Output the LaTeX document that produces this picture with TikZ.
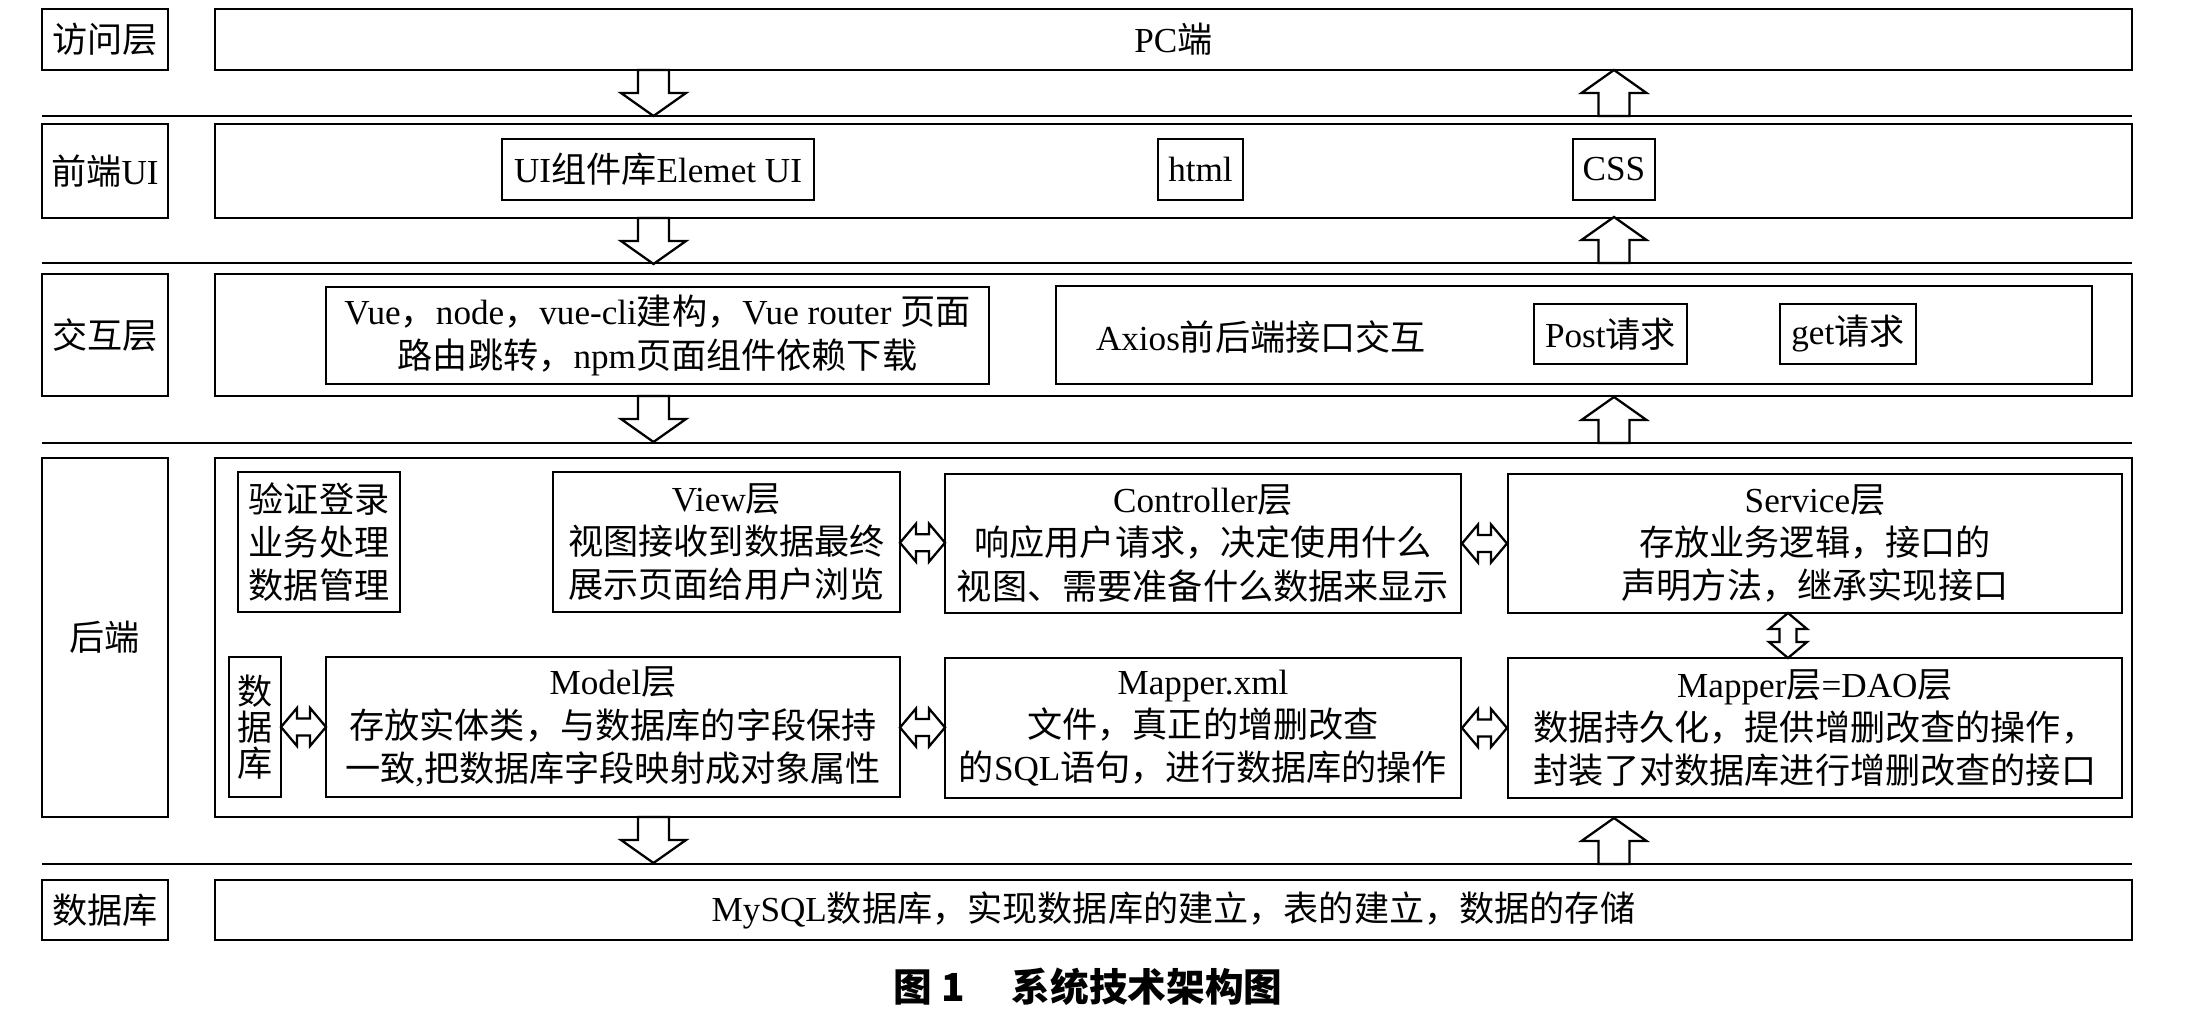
\documentclass[tikz,border=0pt]{standalone}
\usepackage{fontspec}
\setmainfont{Liberation Serif}
\newfontfamily\cjk{Noto Sans CJK SC}
\usepackage{tikz}
\usetikzlibrary{positioning,calc}

\XeTeXinterchartokenstate=1
\newXeTeXintercharclass\cjkclass
\newcount\cjkcode
\cjkcode="3000
\loop\XeTeXcharclass\cjkcode=\cjkclass\advance\cjkcode by 1 \ifnum\cjkcode<"A000 \repeat
\cjkcode="FF00
\loop\XeTeXcharclass\cjkcode=\cjkclass\advance\cjkcode by 1 \ifnum\cjkcode<"FFF0 \repeat
\XeTeXinterchartoks 0 \cjkclass={\cjk}
\XeTeXinterchartoks 4095 \cjkclass={\cjk}
\XeTeXinterchartoks \cjkclass 0={\rmfamily}
\XeTeXinterchartoks \cjkclass 4095={\rmfamily}

\tikzset{
	lay/.style={draw, line width=0.65pt, inner sep=0pt, align=center},
	sep/.style={line width=0.65pt},
	pics/dnblk/.style={code={
		\draw[sep, fill=white] (-0.155,0) -- (-0.155,-0.23) -- (-0.325,-0.23) -- (0,-0.46) -- (0.325,-0.23) -- (0.155,-0.23) -- (0.155,0) -- cycle;
	}},
	pics/dblblk/.style={code={
		\draw[sep, fill=white] (-0.225,0) -- (-0.065,0.19) -- (-0.065,0.085) -- (0.065,0.085) -- (0.065,0.19) -- (0.225,0) -- (0.065,-0.19) -- (0.065,-0.085) -- (-0.065,-0.085) -- (-0.065,-0.19) -- cycle;
	}}
}

\begin{document}
\begin{tikzpicture}[font=\fontsize{10pt}{12.3pt}\selectfont]
	\useasboundingbox (0,0) rectangle (21.87,-10.17);
	\foreach \y in {1.16,2.63,4.43,8.64}
		\draw[sep] (0.42,-\y) -- (21.32,-\y);
	\node[lay, minimum width=1.26cm, minimum height=0.61cm] (l1) at (1.05,-0.395) {访问层};
	\node[lay, minimum width=19.17cm, minimum height=0.61cm] (c1) at (11.735,-0.395) {PC端};
	\node[lay, minimum width=1.26cm, minimum height=0.94cm] (l2) at (1.05,-1.71) {前端UI};
	\node[lay, minimum width=19.17cm, minimum height=0.94cm] (c2) at (11.735,-1.71) {};
	\node[lay, minimum width=3.12cm, minimum height=0.61cm] (ui) at (6.58,-1.695) {UI组件库Elemet UI};
	\node[lay, minimum width=0.85cm, minimum height=0.61cm] (html) at (12.005,-1.695) {html};
	\node[lay, minimum width=0.82cm, minimum height=0.61cm] (css) at (16.14,-1.695) {CSS};
	\node[lay, minimum width=1.26cm, minimum height=1.22cm] (l3) at (1.05,-3.35) {交互层};
	\node[lay, minimum width=19.17cm, minimum height=1.22cm] (c3) at (11.735,-3.35) {};
	\node[lay, minimum width=6.63cm, minimum height=0.97cm] (vue) at (6.575,-3.355) {Vue，node，vue-cli建构，Vue router 页面\\路由跳转，npm页面组件依赖下载};
	\node[lay, minimum width=10.36cm, minimum height=0.98cm] (axios) at (15.74,-3.35) {};
	\node (axt) at (12.61,-3.37) {Axios前后端接口交互};
	\node[lay, minimum width=1.53cm, minimum height=0.6cm] (post) at (16.105,-3.34) {Post请求};
	\node[lay, minimum width=1.36cm, minimum height=0.6cm] (get) at (18.48,-3.34) {get请求};
	\node[lay, minimum width=1.26cm, minimum height=3.59cm] (l4) at (1.05,-6.375) {后端};
	\node[lay, minimum width=19.17cm, minimum height=3.59cm] (c4) at (11.735,-6.375) {};
	\node[lay, minimum width=1.62cm, minimum height=1.4cm] (auth) at (3.19,-5.42) {验证登录\\业务处理\\数据管理};
	\node[lay, minimum width=3.47cm, minimum height=1.4cm] (view) at (7.265,-5.42) {View层\\视图接收到数据最终\\展示页面给用户浏览};
	\node[lay, minimum width=5.16cm, minimum height=1.39cm] (ctrl) at (12.03,-5.435) {Controller层\\响应用户请求，决定使用什么\\视图、需要准备什么数据来显示};
	\node[lay, minimum width=6.14cm, minimum height=1.39cm] (svc) at (18.15,-5.435) {Service层\\存放业务逻辑，接口的\\声明方法，继承实现接口};
	\node[lay, minimum width=0.52cm, minimum height=1.4cm] (dbs) at (2.55,-7.27) {数\\[-2pt]据\\[-2pt]库};
	\node[lay, minimum width=5.74cm, minimum height=1.4cm] (model) at (6.13,-7.27) {Model层\\存放实体类，与数据库的字段保持\\一致,把数据库字段映射成对象属性};
	\node[lay, minimum width=5.16cm, minimum height=1.4cm] (mxml) at (12.03,-7.28) {Mapper.xml\\文件，真正的增删改查\\的SQL语句，进行数据库的操作};
	\node[lay, minimum width=6.14cm, minimum height=1.4cm] (dao) at (18.15,-7.28) {Mapper层=DAO层\\数据持久化，提供增删改查的操作，\\封装了对数据库进行增删改查的接口};
	\node[lay, minimum width=1.26cm, minimum height=0.6cm] (l5) at (1.05,-9.1) {数据库};
	\node[lay, minimum width=19.17cm, minimum height=0.6cm] (c5) at (11.735,-9.1) {MySQL数据库，实现数据库的建立，表的建立，数据的存储};
	\foreach \t/\b in {0.70/1.16,2.18/2.63,3.96/4.43,8.17/8.64} {
		\pic at (6.535,-\t) {dnblk};
		\pic[rotate=180] at (16.14,-\b) {dnblk};
	}
	\pic at ($(view.east)!.5!(ctrl.west)$) {dblblk};
	\pic at ($(ctrl.east)!.5!(svc.west)$) {dblblk};
	\pic at ($(dbs.east)!.5!(model.west)$) {dblblk};
	\pic at ($(model.east)!.5!(mxml.west)$) {dblblk};
	\pic at ($(mxml.east)!.5!(dao.west)$) {dblblk};
	\pic[rotate=90] at ($(svc.south)!.5!(dao.north)+(-0.27,0)$) {dblblk};
	\node[font=\fontsize{11pt}{13pt}\selectfont\cjk\bfseries] (cap) at (10.88,-9.865) {图 {\cjk 1}\hspace{1.2em}系统技术架构图};
\end{tikzpicture}
\end{document}
